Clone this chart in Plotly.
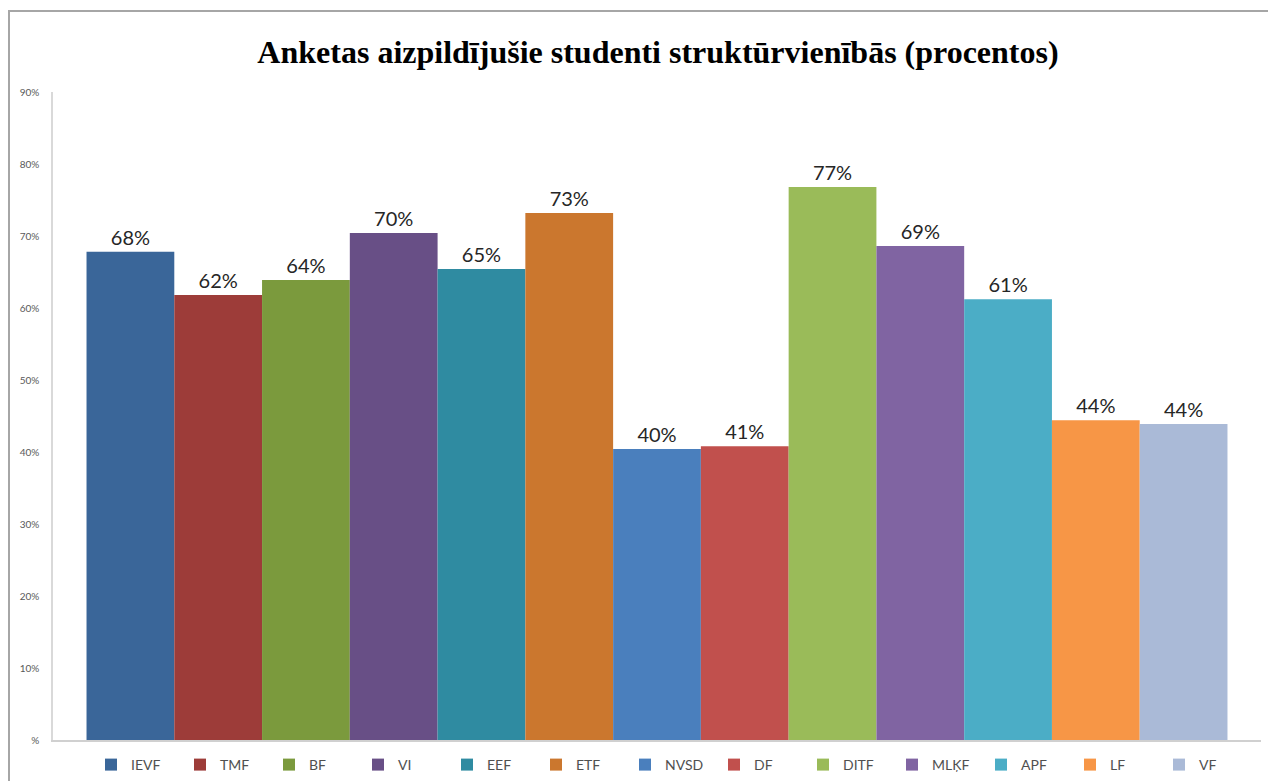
import plotly.graph_objects as go

categories = ["IEVF", "TMF", "BF", "VI", "EEF", "ETF", "NVSD", "DF", "DITF", "MLĶF", "APF", "LF", "VF"]
values = [0.678, 0.618, 0.639, 0.704, 0.654, 0.732, 0.404, 0.408, 0.768, 0.686, 0.612, 0.444, 0.439]
colors = ["#3A6699", "#9D3C39", "#7B9A3D", "#684F86", "#2F8BA1", "#CB772E",
          "#4A7FBD", "#C1504D", "#9ABB59", "#8064A2", "#4BADC6", "#F79646", "#AABAD7"]
tick_values = [0, 0.1, 0.2, 0.3, 0.4, 0.5, 0.6, 0.7, 0.8, 0.9]
tick_labels = ["%", "10%", "20%", "30%", "40%", "50%", "60%", "70%", "80%", "90%"]
title_text = "Anketas aizpildījušie studenti struktūrvienībās (procentos)"

fig = go.Figure()
for name, v, c in zip(categories, values, colors):
    fig.add_trace(go.Bar(
        x=[""], y=[v], name=name,
        marker=dict(color=c, line=dict(width=0)),
        text=[f"{round(v*100)}%"], textposition="outside",
        textfont=dict(family="Lato, Open Sans, sans-serif", size=20, color="#262626"),
        cliponaxis=False,
    ))

# page has 8px body margin: figure origin is at screen (8, 8)
O = 8
W, H = 1276 - O, 781 - O
L, T = 53 - O, 92 - O
plot_right, plot_bottom = 1261 - O, 740 - O
R, B = W - plot_right, H - plot_bottom
pw = W - L - R
ph = H - T - B

fig.update_layout(
    width=W, height=H,
    margin=dict(l=L, r=R, t=T, b=B, autoexpand=False),
    paper_bgcolor="white", plot_bgcolor="white",
    barmode="group", bargap=0.0555, bargroupgap=0,
    title=dict(text=f"<b>{title_text}</b>", x=(658 - O) / W, xanchor="center",
               y=1 - (52 - O) / H, yanchor="middle",
               font=dict(family="Liberation Serif, Times New Roman, serif", size=32, color="#000000")),
    showlegend=True,
    legend=dict(orientation="h", xref="container", yref="container",
                x=(113 - O - 22) / W, xanchor="left", y=1 - (765 - O) / H, yanchor="middle",
                font=dict(family="Lato, Open Sans, sans-serif", size=14, color="#505050"),
                entrywidth=44, entrywidthmode="pixels",
                itemsizing="constant", traceorder="normal", itemclick=False),
    xaxis=dict(showticklabels=False, showline=True, linecolor="#D0D0D0", linewidth=1.5,
               showgrid=False, zeroline=False, ticks=""),
    yaxis=dict(range=[0, 0.9], tickvals=tick_values, ticktext=tick_labels,
               tickfont=dict(family="Lato, Open Sans, sans-serif", size=10, color="#595959"),
               showline=True, linecolor="#D9D9D9", linewidth=1.5,
               showgrid=False, zeroline=False, ticks="", ticklabelstandoff=10),
    shapes=[dict(type="rect", xref="paper", yref="paper",
                 x0=(9 - O - L) / pw, x1=(W + 20 - L) / pw,
                 y0=-(H + 20 - (T + ph)) / ph, y1=1 + (T - (11 - O)) / ph,
                 line=dict(color="#A6A6A6", width=2), fillcolor="rgba(0,0,0,0)", layer="above")],
)

fig.write_html("out.html")
